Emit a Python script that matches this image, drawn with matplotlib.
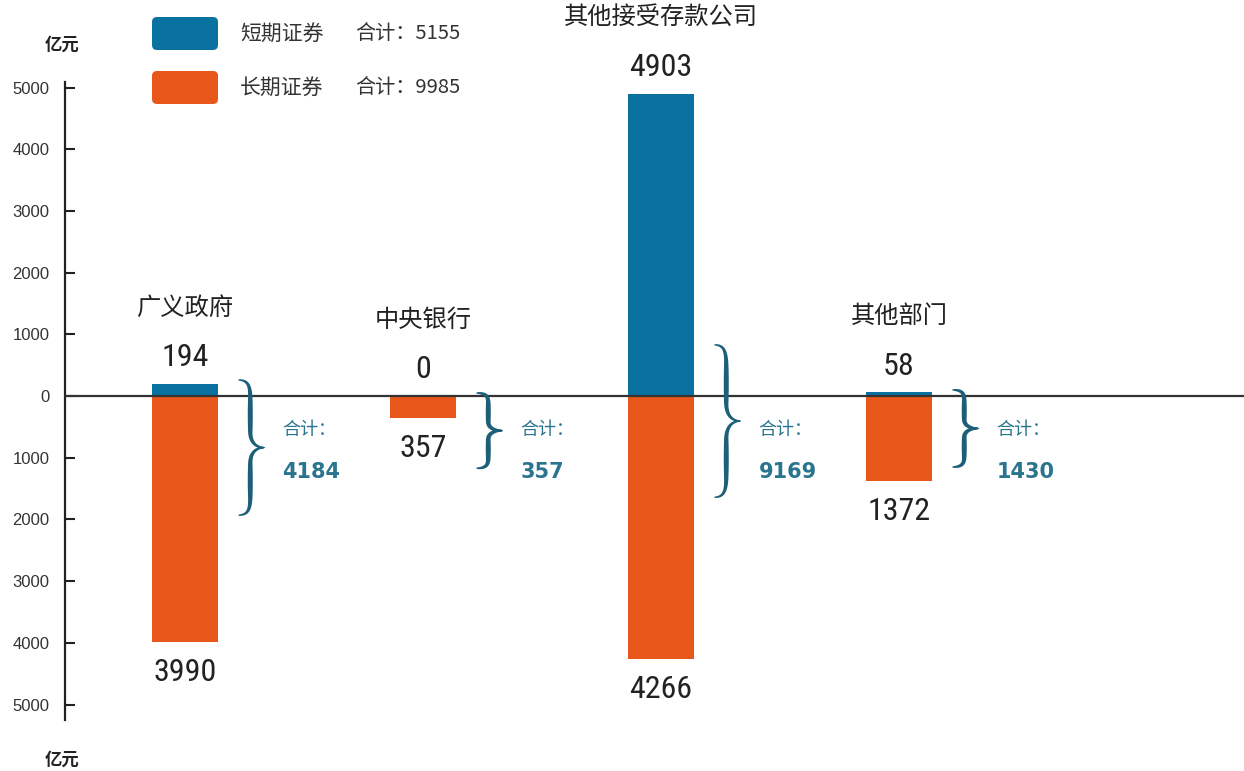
import numpy as np
import matplotlib
matplotlib.use('Agg')
import matplotlib.pyplot as plt
from matplotlib.patches import Polygon, FancyBboxPatch
from matplotlib.transforms import IdentityTransform
from matplotlib import font_manager

# ---------------- data ----------------
categories = ['广义政府', '中央银行', '其他接受存款公司', '其他部门']
short_term = [194, 0, 4903, 58]
long_term = [3990, 357, 4266, 1372]
sector_totals = [4184, 357, 9169, 1430]
series_names = ['短期证券', '长期证券']
series_totals = [5155, 9985]
y_ticks = [-5000, -4000, -3000, -2000, -1000, 0, 1000, 2000, 3000, 4000, 5000]
unit = '亿元'
total_label = '合计：'

# ---------------- layout / style ----------------
brace_top = [260, 50, 830, 100]
brace_bottom = [-1930, -1170, -1640, -1150]

BLUE = '#0a72a0'
ORANGE = '#e8561a'
BRACE = '#1d5e78'
TEAL = '#2b7490'
DARK = '#222222'

CJK = ['Noto Sans CJK SC', 'DejaVu Sans']
avail = {f.name for f in font_manager.fontManager.ttflist}
NUM = [f for f in ['Liberation Sans Narrow', 'DejaVu Sans Condensed', 'Roboto Condensed'] if f in avail] + ['DejaVu Sans']
TICKF = [f for f in ['Liberation Sans', 'DejaVu Sans'] if f in avail]

W, H = 1244, 771
fig = plt.figure(figsize=(W / 100, H / 100), dpi=100)
ax = fig.add_axes([65 / W, 51 / H, 1 - 65 / W, 638 / H])
ax.set_ylim(-5250, 5090)
ax.set_xlim(-0.504, 4.45)

for s in ['top', 'right', 'bottom']:
    ax.spines[s].set_visible(False)
ax.spines['left'].set_linewidth(1.6)
ax.spines['left'].set_color(DARK)
ax.set_xticks([])
ax.set_yticks(y_ticks)
ax.set_yticklabels([str(abs(v)) for v in y_ticks], family=TICKF)
ax.tick_params(axis='y', direction='in', length=7, width=1.5, pad=11,
               labelsize=12, labelcolor='#333333', color=DARK)

x = np.arange(len(categories))
bw = 0.277
ax.bar(x, short_term, width=bw, color=BLUE, zorder=2)
ax.bar(x, [-v for v in long_term], width=bw, color=ORANGE, zorder=2)
ax.axhline(0, color='#333333', lw=1.6, zorder=3)

for i, cat in enumerate(categories):
    ax.annotate(str(short_term[i]), xy=(x[i], short_term[i]), xytext=(0, 19),
                textcoords='offset points', ha='center', va='center',
                fontsize=23, family=NUM, color=DARK)
    ax.annotate(str(long_term[i]), xy=(x[i], -long_term[i]), xytext=(0, -22),
                textcoords='offset points', ha='center', va='center',
                fontsize=23, family=NUM, color=DARK)
    ax.annotate(cat, xy=(x[i], short_term[i]), xytext=(0, 55),
                textcoords='offset points', ha='center', va='center',
                fontsize=17.5, family=CJK, weight='medium', color=DARK)
    ax.text(x[i] + 0.41, -550, total_label, ha='left', va='center',
            fontsize=13, family=CJK, weight='medium', color=TEAL)
    ax.text(x[i] + 0.41, -1230, str(sector_totals[i]), ha='left', va='center',
            fontsize=15, family='DejaVu Sans', weight='bold', color=TEAL)


def bezier(p0, p1, p2, p3, n=40):
    t = np.linspace(0, 1, n)[:, None]
    return ((1 - t) ** 3) * p0 + 3 * ((1 - t) ** 2) * t * p1 + 3 * (1 - t) * t ** 2 * p2 + t ** 3 * p3


def brace(ax, xl, xr, yt, yb, color, tmax=5.0, tmin=1.2):
    (X0, YT) = ax.transData.transform((xl, yt))
    (X1, YB) = ax.transData.transform((xr, yb))
    w = X1 - X0
    h = YT - YB
    a = bezier(np.array([0, 0]), np.array([0.42, 0.0]), np.array([0.45, 0.06]), np.array([0.45, 0.15]))
    b = np.linspace([0.45, 0.15], [0.45, 0.38], 20)
    c = bezier(np.array([0.45, 0.38]), np.array([0.45, 0.47]), np.array([0.7, 0.5]), np.array([1.0, 0.5]))
    upper = np.vstack([a, b[1:], c[1:]])
    lower = upper[::-1].copy()
    lower[:, 1] = 1 - lower[:, 1]
    pts_uv = np.vstack([upper, lower[1:]])
    P = np.column_stack([X0 + pts_uv[:, 0] * w, YT - pts_uv[:, 1] * h])
    seg = np.sqrt((np.diff(P, axis=0) ** 2).sum(axis=1))
    s = np.concatenate([[0], np.cumsum(seg)])
    s = s / s[-1]
    half = np.where(s < 0.5, s * 2, (s - 0.5) * 2)
    th = tmin + (tmax - tmin) * np.sin(np.pi * half) ** 0.8
    d = np.gradient(P, axis=0)
    d = d / np.linalg.norm(d, axis=1)[:, None]
    nrm = np.column_stack([-d[:, 1], d[:, 0]])
    left = P + nrm * th[:, None] / 2
    right = P - nrm * th[:, None] / 2
    poly = np.vstack([left, right[::-1]])
    ax.add_patch(Polygon(poly, closed=True, facecolor=color, edgecolor='none',
                         transform=IdentityTransform(), clip_on=False, zorder=4))


for i in range(len(categories)):
    brace(ax, x[i] + 0.225, x[i] + 0.335, brace_top[i], brace_bottom[i], BRACE)

# overlay in pixel coords for legend and unit labels
ov = fig.add_axes([0, 0, 1, 1])
ov.set_xlim(0, W)
ov.set_ylim(H, 0)
ov.axis('off')
legend_colors = [BLUE, ORANGE]
legend_y = [17, 71]
for name, tot, col, y0 in zip(series_names, series_totals, legend_colors, legend_y):
    ov.add_patch(FancyBboxPatch((152, y0), 66, 33, boxstyle='round,pad=0,rounding_size=5',
                                facecolor=col, edgecolor='none'))
    ov.text(240, y0 + 16.5, name, ha='left', va='center', fontsize=15, family=CJK, color='#333333')
    ov.text(355, y0 + 16.5, f'{total_label}{tot}', ha='left', va='center', fontsize=14.5,
            family=CJK, color='#333333')

ov.text(62, 45, unit, ha='center', va='center', fontsize=12.5, family=CJK, weight='bold', color=DARK)
ov.text(62, 760, unit, ha='center', va='center', fontsize=12.5, family=CJK, weight='bold', color=DARK)

fig.savefig('out.png', dpi=100)
